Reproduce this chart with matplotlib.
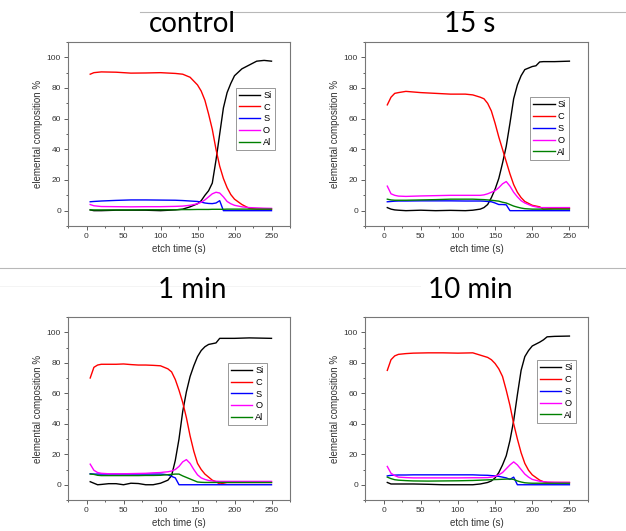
import numpy as np
import matplotlib
matplotlib.use('Agg')
import matplotlib.pyplot as plt
from matplotlib.ticker import MultipleLocator

# control
t_ctrl = [5, 10, 20, 40, 60, 80, 100, 120, 130, 140, 150, 155, 160, 165, 170, 175, 180, 185, 190, 195, 200, 210, 220, 230, 240, 250]
si_ctrl = [0.5, 0, 0, 0.3, 0.3, 0.3, 0, 0.5, 1, 2.5, 4.5, 6.5, 10, 13, 18, 33, 50, 67, 77, 83, 88, 92.5, 95, 97.5, 98, 97.5]
c_ctrl = [89, 90, 90.5, 90.3, 89.7, 89.8, 90, 89.5, 89, 87, 82, 78, 72, 63, 53, 40, 29, 21, 15, 10.5, 7.5, 4, 1.5, 1, 1, 1]
s_ctrl = [5.8, 6, 6.3, 6.7, 7, 7, 6.9, 6.8, 6.6, 6.3, 6, 5.6, 5, 4.7, 4.6, 5, 6.5, 0, 0, 0, 0, 0, 0, 0, 0, 0]
o_ctrl = [4, 3.2, 2.7, 2.6, 2.5, 2.6, 2.6, 2.8, 3, 3.5, 4.5, 5.5, 7, 9, 11, 12, 11.5, 9, 6, 4.5, 3.5, 2.5, 2, 1.8, 1.6, 1.5]
al_ctrl = [0.5, 0.5, 0.5, 0.5, 0.5, 0.6, 0.6, 0.6, 0.7, 0.7, 0.8, 0.8, 0.8, 0.8, 0.9, 0.9, 0.9, 0.9, 1, 1, 1, 1, 1, 1, 1, 1]

# 15 s
t_15s = [5, 10, 15, 20, 30, 50, 70, 90, 110, 120, 130, 135, 140, 145, 150, 155, 160, 165, 170, 175, 180, 185, 190, 200, 205, 210, 215, 230, 250]
si_15s = [2, 1, 0.5, 0.3, 0, 0.3, 0, 0.2, 0, 0.3, 1, 2, 4, 8.5, 14, 21, 31, 42, 57, 73, 82, 88, 92, 94, 94.5, 97, 97.2, 97.2, 97.5]
c_15s = [69, 74, 76.5, 77, 77.8, 77, 76.5, 76, 76, 75.5, 74, 73, 70, 65, 57, 48, 40, 32, 24, 17, 12, 8.5, 6, 3.5, 3, 2.5, 1, 1.5, 1.5]
s_15s = [5.8, 6, 6.2, 6.3, 6.3, 6.4, 6.4, 6.4, 6.3, 6.3, 6.3, 6.2, 6, 5.8, 5, 4, 4, 3.8, 0, 0, 0, 0, 0, 0, 0, 0, 0, 0, 0]
o_15s = [16, 11, 10, 9.5, 9.3, 9.6, 9.8, 10, 10, 10, 10, 10.3, 11, 12, 13, 15, 17.5, 19, 16, 12, 9, 6.5, 5, 3, 2.5, 2, 2, 2, 2]
al_15s = [7.5, 7, 6.8, 6.8, 6.8, 7, 7.2, 7.5, 7.5, 7.5, 7.3, 7.2, 7, 6.8, 6.5, 6.2, 5.5, 5, 4, 3, 2.3, 1.7, 1.3, 1, 1, 1, 1, 1, 1]

# 1 min
t_1min = [5, 10, 15, 20, 30, 40, 50, 60, 70, 80, 90, 100, 105, 110, 115, 120, 125, 130, 135, 140, 145, 150, 155, 160, 165, 170, 175, 180, 190, 200, 220, 250]
si_1min = [2, 1, 0, 0.2, 0.7, 0.7, 0, 1, 0.8, 0, 0, 1, 2, 3, 6, 16, 30, 48, 61, 71, 78, 84, 88, 90.5, 92, 92.5, 93, 96, 96, 96, 96.3, 96]
c_1min = [70, 77, 78.5, 79, 79, 79, 79.2, 78.8, 78.5, 78.5, 78.3, 78, 77, 76, 74, 69, 62, 54, 44, 32, 22, 14, 10, 7, 5, 3, 2, 0.5, 1.5, 1.5, 1.5, 1.5]
s_1min = [7.2, 7, 7, 7, 7, 7, 7, 7, 7, 7, 7, 7, 6.8, 6.5, 5.5, 4.5, 0, 0, 0, 0, 0, 0, 0, 0, 0, 0, 0, 0, 0, 0, 0, 0]
o_1min = [13.5, 9.5, 8, 7.5, 7.2, 7.2, 7.2, 7.3, 7.4, 7.5, 7.8, 8, 8.3, 8.5, 9, 10, 12, 15, 16.5, 14, 10, 6.5, 4.5, 3.5, 2.8, 2.5, 2.3, 2.2, 2.2, 2.2, 2.2, 2.2]
al_1min = [7, 6.8, 6.2, 6, 6, 6, 6, 6, 6, 6.1, 6.1, 6.2, 6.4, 6.6, 6.8, 7, 7, 5.8, 4.8, 3.8, 2.8, 1.8, 1.6, 1.5, 1.5, 1.5, 1.5, 1.5, 1.5, 1.5, 1.5, 1.5]

# 10 min
t_10min = [5, 10, 15, 20, 30, 40, 60, 80, 100, 120, 130, 140, 145, 150, 155, 160, 165, 170, 175, 180, 185, 190, 195, 200, 210, 215, 220, 230, 250]
si_10min = [1.5, 0.5, 0.5, 0.5, 0.5, 0.5, 0.3, 0, 0, 0, 0.5, 1.5, 2.5, 4.5, 8, 13, 19, 29, 42, 59, 75, 84, 88, 91, 93.5, 95, 97, 97.3, 97.5]
c_10min = [75, 82, 84.5, 85.5, 86, 86.3, 86.5, 86.5, 86.3, 86.5, 85, 83.5, 82, 79.5, 76, 71, 62, 52, 40, 30, 21, 14, 9.5, 6.5, 3, 2, 1.5, 1.5, 1.5]
s_10min = [5.8, 6.2, 6.3, 6.4, 6.4, 6.5, 6.5, 6.5, 6.5, 6.5, 6.3, 6.2, 6, 5.8, 5.5, 5, 4.5, 3.5, 5, 0, 0, 0, 0, 0, 0, 0, 0, 0, 0]
o_10min = [12, 7.5, 6, 5, 4.7, 4.5, 4.5, 4.5, 4.5, 4.6, 4.6, 4.7, 5, 5.5, 6.5, 8, 10.5, 13, 15, 13, 10, 7, 5, 3.5, 2.3, 2, 1.8, 1.6, 1.5]
al_10min = [5, 4, 3.3, 3, 2.7, 2.5, 2.4, 2.5, 2.6, 2.8, 3, 3.2, 3.3, 3.4, 3.5, 3.6, 3.7, 3.8, 3.5, 2.5, 1.8, 1.3, 1.1, 1, 1, 1, 1, 1, 1]

titles = ['control', '15 s', '1 min', '10 min']
elements = ['Si', 'C', 'S', 'O', 'Al']
colores = ['black', '#ff0000', '#0000ff', '#ff00ff', '#008000']

W, H = 626, 531
fig = plt.figure(figsize=(W/100, H/100), dpi=100)

# separator lines between the panels
fig.add_artist(plt.Line2D([140/W, 1], [1-12/H, 1-12/H], color='#b8b8b8', lw=0.8))
fig.add_artist(plt.Line2D([0, 1], [1-268/H, 1-268/H], color='#b8b8b8', lw=0.8))
fig.add_artist(plt.Line2D([0, 420/W], [1-286/H, 1-286/H], color='#f2f2f2', lw=0.6))

# panel boxes in pixels: left, top, width, height, title x, title baseline, legend pos
paneles = [
    (68, 42, 222, 184, 192, 32.5, (0.755, 0.752), t_ctrl, [si_ctrl, c_ctrl, s_ctrl, o_ctrl, al_ctrl]),
    (365, 42, 223, 184, 470, 32.5, (0.74, 0.70), t_15s, [si_15s, c_15s, s_15s, o_15s, al_15s]),
    (68, 317, 222, 183, 192, 297.5, (0.72, 0.75), t_1min, [si_1min, c_1min, s_1min, o_1min, al_1min]),
    (365, 317, 223, 183, 470, 297.5, (0.77, 0.764), t_10min, [si_10min, c_10min, s_10min, o_10min, al_10min]),
]

for i, (x0, y0, w, h, tx, ty, lpos, t, series) in enumerate(paneles):
    ax = fig.add_axes([x0/W, 1-(y0+h)/H, w/W, h/H])
    for vals, el, col in zip(series, elements, colores):
        ax.plot(t, vals, color=col, lw=1.0, label=el)
    ax.set_xlim(-25, 275)
    ax.set_ylim(-10, 110)
    ax.xaxis.set_major_locator(MultipleLocator(50))
    ax.xaxis.set_minor_locator(MultipleLocator(25))
    ax.yaxis.set_major_locator(MultipleLocator(20))
    ax.yaxis.set_minor_locator(MultipleLocator(10))
    ax.tick_params(which='both', direction='out', colors='#444444', labelcolor='#333333',
                   labelsize=6, width=0.6, pad=2)
    ax.tick_params(which='major', length=3)
    ax.tick_params(which='minor', length=1.6)
    for sp in ax.spines.values():
        sp.set_color('#777777')
        sp.set_linewidth(0.8)
    for lab in ax.get_xticklabels() + ax.get_yticklabels():
        lab.set_family('Liberation Sans')
    ax.set_xlabel('etch time (s)', fontsize=7, family='Liberation Sans', color='#333333', labelpad=3)
    ax.set_ylabel('elemental composition %', fontsize=7, family='Liberation Sans', color='#333333', labelpad=3)
    leg = ax.legend(loc='upper left', bbox_to_anchor=lpos, handlelength=2.3,
                    handletextpad=0.3, borderpad=0.35, labelspacing=0.3, borderaxespad=0,
                    fancybox=False, framealpha=1, edgecolor='#888888',
                    prop={'family': 'Liberation Sans', 'size': 6.7})
    leg.get_frame().set_linewidth(0.6)
    fig.text(tx/W, 1-ty/H, titles[i], fontsize=20, family='Lato', ha='center', va='baseline')

plt.savefig('out.png', dpi=100)
